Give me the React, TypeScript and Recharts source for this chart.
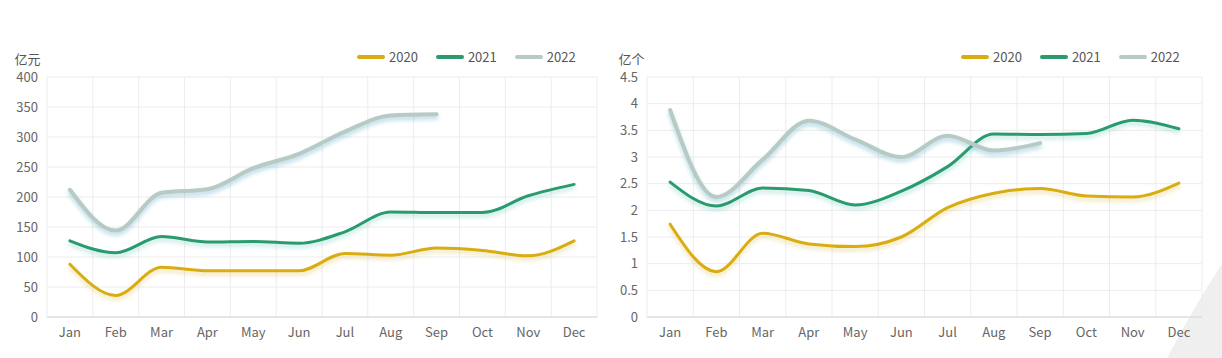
import React from 'react';
import { LineChart, Line, XAxis, YAxis, CartesianGrid, Legend } from 'recharts';

const months = ['Jan', 'Feb', 'Mar', 'Apr', 'May', 'Jun', 'Jul', 'Aug', 'Sep', 'Oct', 'Nov', 'Dec'];

// left chart: 亿元
const amount2020 = [88, 36, 83, 77, 77, 77, 106, 103, 115, 111, 102, 127];
const amount2021 = [127, 107, 134, 125, 126, 123, 142, 175, 174, 174, 202, 221];
const amount2022 = [212, 144, 207, 213, 248, 272, 309, 336, 338];
const amountTicks = [0, 50, 100, 150, 200, 250, 300, 350, 400];

// right chart: 亿个
const count2020 = [1.74, 0.85, 1.57, 1.37, 1.32, 1.5, 2.05, 2.32, 2.41, 2.27, 2.25, 2.51];
const count2021 = [2.53, 2.08, 2.42, 2.37, 2.1, 2.36, 2.82, 3.43, 3.42, 3.44, 3.69, 3.53];
const count2022 = [3.88, 2.25, 2.95, 3.68, 3.33, 3.0, 3.4, 3.12, 3.26];
const countTicks = [0, 0.5, 1, 1.5, 2, 2.5, 3, 3.5, 4, 4.5];

const years = ['2020', '2021', '2022'];
const COLORS = ['#d9ad12', '#2b9b6d', '#b8cac4'];
const WIDTHS = [3, 3, 4];

const FONT = '"Noto Sans CJK SC", "Noto Sans", sans-serif';

const buildRows = (a: number[], b: number[], c: number[]) =>
  months.map((m, i) => ({ month: m, '2020': a[i], '2021': b[i], '2022': c[i] }));

const amountRows = buildRows(amount2020, amount2021, amount2022);
const countRows = buildRows(count2020, count2021, count2022);

// split lines sit on the category boundaries, not on the ticks
const boundaryLines = ({ offset }: any) =>
  Array.from({ length: months.length + 1 }, (_, i) => offset.left + (i * offset.width) / months.length);

const LegendBox = () => (
  <div style={{ display: 'flex', alignItems: 'center', fontFamily: FONT, fontSize: 13, color: '#555' }}>
    {years.map((y, i) => (
      <div key={y} style={{ display: 'flex', alignItems: 'center', marginRight: i < 2 ? 18 : 0 }}>
        <div style={{ width: 28, height: 4, borderRadius: 2, background: COLORS[i], marginRight: 4 }} />
        <span>{y}</span>
      </div>
    ))}
  </div>
);

interface PanelProps {
  rows: any[];
  ticks: number[];
  unit: string;
  width: number;
  rightMargin: number;
  legendLeft: number;
  unitDx: number;
}

const Panel: React.FC<PanelProps> = ({ rows, ticks, unit, width, rightMargin, legendLeft, unitDx }) => {
  const half = (width - 47 - rightMargin) / months.length / 2;
  return (
    <LineChart width={width} height={358} data={rows} margin={{ top: 77, right: rightMargin, bottom: 11, left: 0 }}>
      <CartesianGrid stroke="#ececec" verticalCoordinatesGenerator={boundaryLines} />
      <XAxis
        dataKey="month"
        height={30}
        padding={{ left: half, right: half }}
        axisLine={{ stroke: '#d6d6d6' }}
        tickLine={false}
        tickSize={0}
        tickMargin={11}
        tick={{ fill: '#666', fontSize: 13, fontFamily: FONT }}
        interval={0}
      />
      <YAxis
        width={47}
        domain={[ticks[0], ticks[ticks.length - 1]]}
        ticks={ticks}
        axisLine={false}
        tickLine={false}
        tickSize={0}
        tickMargin={9}
        tick={{ fill: '#666', fontSize: 13, fontFamily: FONT }}
        label={{ value: unit, position: 'top', offset: 13, dx: unitDx, fill: '#555', fontSize: 13, fontFamily: FONT }}
      />
      <Legend
        layout="horizontal"
        verticalAlign="middle"
        align="center"
        content={() => <LegendBox />}
        wrapperStyle={{ position: 'absolute', left: legendLeft, top: 47, width: 'auto', height: 20 }}
      />
      {years.map((y, i) => (
        <Line
          key={y}
          dataKey={y}
          type="monotone"
          stroke={COLORS[i]}
          strokeWidth={WIDTHS[i]}
          dot={false}
          activeDot={false}
          strokeLinecap="round"
          className={`glow-${y}`}
          isAnimationActive={false}
        />
      ))}
    </LineChart>
  );
};

export default function App() {
  return (
    <div style={{ position: 'absolute', left: 0, top: 0, width: 1222, height: 358, background: '#fff', overflow: 'hidden' }}>
      <style>{`
        .glow-2020 { filter: drop-shadow(0 3px 2px rgba(217, 190, 80, 0.45)); }
        .glow-2021 { filter: drop-shadow(0 3px 2px rgba(100, 200, 190, 0.45)); }
        .glow-2022 { filter: drop-shadow(0 3px 2px rgba(90, 170, 200, 0.45)); }
      `}</style>
      <svg width={1222} height={358} style={{ position: 'absolute', left: 0, top: 0 }}>
        <path d="M1222,264 Q1195,305 1167,358 L1222,358 Z" fill="#efefef" />
      </svg>
      <div style={{ position: 'absolute', left: 0, top: 0 }}>
        <Panel rows={amountRows} ticks={amountTicks} unit="亿元" width={600} rightMargin={3} legendLeft={357} unitDx={4} />
      </div>
      <div style={{ position: 'absolute', left: 600, top: 0 }}>
        <Panel rows={countRows} ticks={countTicks} unit="亿个" width={622} rightMargin={20} legendLeft={361} unitDx={8} />
      </div>
    </div>
  );
}
